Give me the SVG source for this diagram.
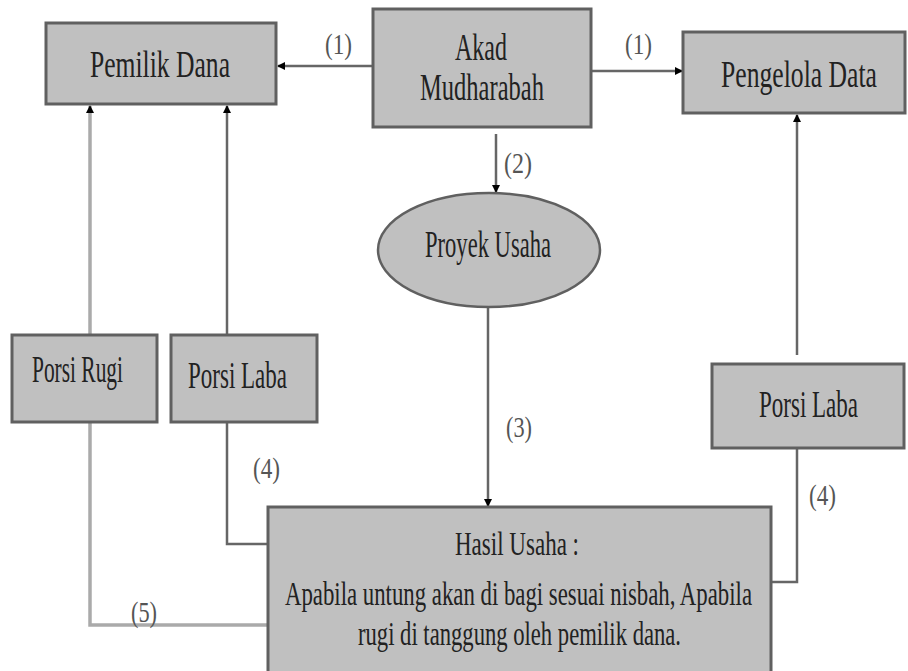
<svg xmlns="http://www.w3.org/2000/svg" width="908" height="671" viewBox="0 0 908 671">
<style>
.box{fill:#c0c0c0;stroke:#606060;stroke-width:3}
text{font-family:"Liberation Serif","DejaVu Serif",serif}
.t{fill:#222;font-size:38px}
.s{fill:#222;font-size:33px}
.lb{fill:#555;font-size:29px}
.ln{fill:none;stroke:#666;stroke-width:2.5}
.lg{fill:none;stroke:#aaa;stroke-width:3.5}
</style>
<defs>
<marker id="ah" markerWidth="8" markerHeight="8" refX="7" refY="4" orient="auto" markerUnits="userSpaceOnUse">
<path d="M0,0 L8,4 L0,8 Z" fill="#000"/>
</marker>
</defs>
<rect width="908" height="671" fill="#fff"/>
<g id="connectors">
<line class="ln" x1="373" y1="66" x2="278" y2="66" marker-end="url(#ah)"/>
<line class="ln" x1="591" y1="71" x2="682" y2="71" marker-end="url(#ah)"/>
<line class="ln" x1="496" y1="134" x2="496" y2="192" marker-end="url(#ah)"/>
<line class="ln" x1="488" y1="308" x2="488" y2="506" marker-end="url(#ah)"/>
<line class="lg" x1="90" y1="335" x2="90" y2="106" marker-end="url(#ah)"/>
<line class="ln" x1="227" y1="335" x2="227" y2="106" marker-end="url(#ah)"/>
<path class="lg" d="M90 422 V625 H268"/>
<path class="ln" d="M227 422 V544 H268"/>
<path class="ln" d="M771 582 H797 V448"/>
<line class="ln" x1="797" y1="355" x2="797" y2="115" marker-end="url(#ah)"/>
<text class="lb" x="325" y="54" textLength="27" lengthAdjust="spacingAndGlyphs">(1)</text>
<text class="lb" x="625" y="54" textLength="27" lengthAdjust="spacingAndGlyphs">(1)</text>
<text class="lb" x="504" y="173" textLength="28" lengthAdjust="spacingAndGlyphs">(2)</text>
<text class="lb" x="506" y="437" textLength="26" lengthAdjust="spacingAndGlyphs">(3)</text>
<text class="lb" x="253" y="478" textLength="27" lengthAdjust="spacingAndGlyphs">(4)</text>
<text class="lb" x="809" y="505" textLength="27" lengthAdjust="spacingAndGlyphs">(4)</text>
<text class="lb" x="131" y="622" textLength="26" lengthAdjust="spacingAndGlyphs">(5)</text>
</g>
<g id="pemilik-dana">
<rect class="box" x="46" y="23" width="230" height="81"/>
<text class="t" x="90" y="77" textLength="140" lengthAdjust="spacingAndGlyphs">Pemilik Dana</text>
</g>
<g id="akad-mudharabah">
<rect class="box" x="373" y="9" width="218" height="118"/>
<text class="t" x="455" y="60" textLength="52" lengthAdjust="spacingAndGlyphs">Akad</text>
<text class="t" x="420" y="100" textLength="124" lengthAdjust="spacingAndGlyphs">Mudharabah</text>
</g>
<g id="pengelola-data">
<rect class="box" x="683" y="32" width="222" height="81"/>
<text class="t" x="721" y="87" textLength="156" lengthAdjust="spacingAndGlyphs">Pengelola Data</text>
</g>
<g id="proyek-usaha">
<ellipse cx="489" cy="250" rx="111" ry="57" fill="#c0c0c0" stroke="#606060" stroke-width="2.5"/>
<text class="t" x="425" y="257" textLength="126" lengthAdjust="spacingAndGlyphs">Proyek Usaha</text>
</g>
<g id="porsi-rugi">
<rect class="box" x="12" y="335" width="145" height="87"/>
<text class="t" x="32" y="382" textLength="91" lengthAdjust="spacingAndGlyphs">Porsi Rugi</text>
</g>
<g id="porsi-laba-kiri">
<rect class="box" x="171" y="335" width="146" height="87"/>
<text class="t" x="188" y="388" textLength="99" lengthAdjust="spacingAndGlyphs">Porsi Laba</text>
</g>
<g id="porsi-laba-kanan">
<rect class="box" x="712" y="364" width="192" height="84"/>
<text class="t" x="759" y="417" textLength="99" lengthAdjust="spacingAndGlyphs">Porsi Laba</text>
</g>
<g id="hasil-usaha">
<rect class="box" x="268" y="507" width="503" height="175"/>
<text class="s" x="455" y="555" textLength="124" lengthAdjust="spacingAndGlyphs">Hasil Usaha :</text>
<text class="s" x="285" y="605" textLength="467" lengthAdjust="spacingAndGlyphs">Apabila untung akan di bagi sesuai nisbah, Apabila</text>
<text class="s" x="358" y="645" textLength="323" lengthAdjust="spacingAndGlyphs">rugi di tanggung oleh pemilik dana.</text>
</g>
</svg>
